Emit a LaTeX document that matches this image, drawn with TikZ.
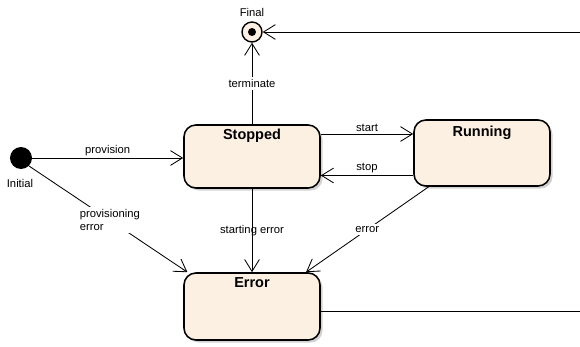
\documentclass[tikz,border=0pt]{standalone}
\usepackage{fontspec}
\setmainfont{Liberation Sans}
\usetikzlibrary{arrows.meta,shadows}
\definecolor{statefill}{HTML}{FBF0E1}
\tikzset{
	state/.style={draw=black, line width=1.1pt, fill=statefill, rounded corners=8.5pt,
		minimum width=3.4cm, minimum height=1.575cm,
		drop shadow={shadow xshift=1.8pt, shadow yshift=-1.8pt, fill=black!35}},
	title/.style={anchor=north, font=\bfseries\fontsize{10.3}{12}\selectfont},
	trans/.style={line width=0.6pt, -{Straight Barb[length=8.5pt,width=10.5pt,line width=0.6pt]}},
	lbl/.style={inner sep=1.5pt},
	lblw/.style={inner sep=1.5pt, fill=white}
}

\begin{document}
\begin{tikzpicture}[x=0.025cm, y=-0.025cm, font=\fontsize{8}{9.5}\selectfont]
	%%%%% START %%%%%
	\def\xleft{252}
	\def\xright{482}
	\def\edge{580}
	\def\dstart{16pt}
	\def\dstop{-13.5pt}
	
	\useasboundingbox (0,0) rectangle (\edge,347);
	
	% pseudo states
	\node[circle, fill=black, minimum size=0.55cm, inner sep=0pt] (Initial) at (21,158) {};
	\node[lbl] (initlbl) at (20,183) {Initial};
	\node[circle, draw=black, line width=1pt, fill=statefill, minimum size=0.5cm, inner sep=0pt] (Final) at (\xleft,32) {};
	\node[circle, fill=black, minimum size=0.2cm, inner sep=0pt] (finaldot) at (Final) {};
	\node[lbl] (finallbl) at (\xleft,12) {Final};
	
	% states
	\node[state, label={[title]north:Stopped}] (Stopped) at (\xleft,156.5) {};
	\node[state, minimum height=1.65cm, label={[title, yshift=-1pt]north:Running}] (Running) at (\xright,153) {};
	\node[state, minimum height=1.675cm, label={[title]north:Error}] (Error) at (\xleft,306.5) {};
	
	% ends of the long way round to Final
	\coordinate (errout) at (\edge,311);
	\coordinate (finin) at (\edge,32);
	
	% transitions
	\draw[trans] (Initial) -- (Initial -| Stopped.west)
		node[lbl, midway, above] (lprov) {provision};
	\draw[trans] (Initial.south east) -- ([xshift=3pt]Error.north west)
		node[lblw, pos=0.51, align=left] (lproverr) {provisioning\\error};
	\draw[trans] (Stopped.north) -- (Final.south)
		node[lblw, midway] (lterm) {terminate};
	\draw[trans] ([yshift=\dstart]Stopped.east) -- ([yshift=\dstart]Stopped.east -| Running.west)
		node[lbl, midway, above] (lstart) {start};
	\draw[trans] ([yshift=\dstop]Stopped.east -| Running.west) -- ([yshift=\dstop]Stopped.east)
		node[lbl, midway, above] (lstop) {stop};
	\draw[trans] (Stopped.south) -- (Error.north)
		node[lbl, midway] (lstarterr) {starting error};
	\draw[trans] ([xshift=11pt]Running.south west) -- ([xshift=-10.5pt]Error.north east)
		node[lblw, midway] (lerr) {error};
	\draw[line width=0.6pt] (Error.east |- errout) -- (errout);
	\draw[trans] (finin) -- (Final.east);
	%%%%% END %%%%%
\end{tikzpicture}
\end{document}
